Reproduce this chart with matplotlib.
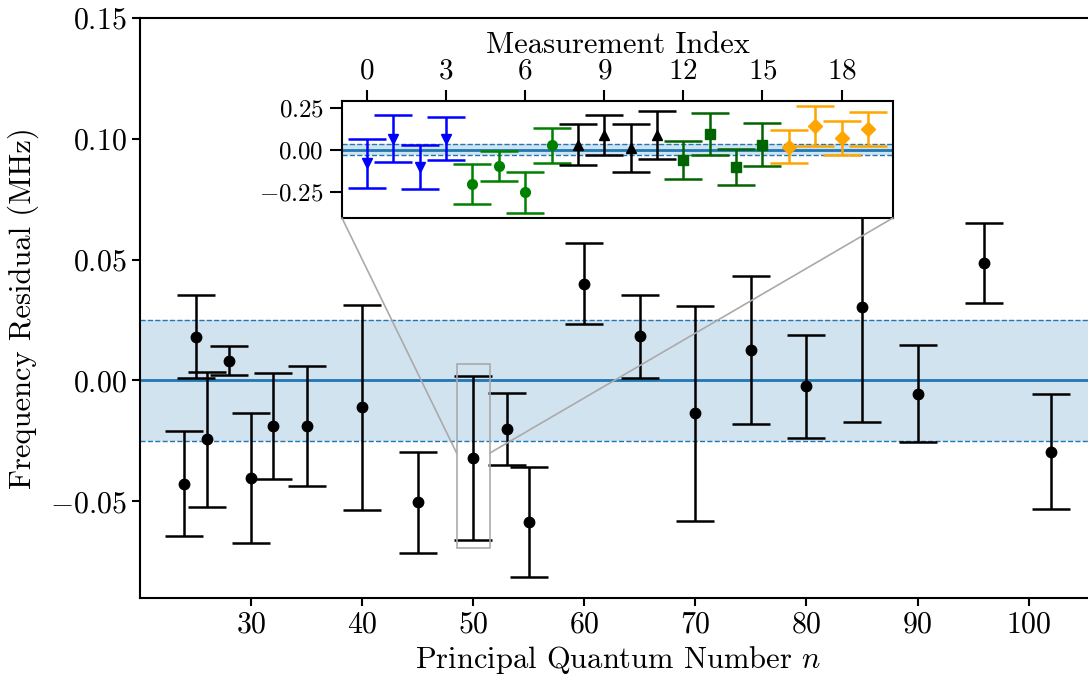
# residuals vs principal quantum number, with zoom-in of the n=50 repeats

import numpy as np
import matplotlib
matplotlib.use('Agg')
import matplotlib.pyplot as plt
from matplotlib.patches import Rectangle, ConnectionPatch
from matplotlib.ticker import FuncFormatter

plt.rcParams['font.family'] = 'serif'
plt.rcParams['font.serif'] = ['cmr10']
plt.rcParams['mathtext.fontset'] = 'cm'
plt.rcParams['axes.formatter.use_mathtext'] = True

# main data
n_vals = [24, 25, 26, 28, 30, 32, 35, 40, 45, 50, 53, 55,
          60, 65, 70, 75, 80, 85, 90, 96, 102]
resid = [-0.0428, 0.0182, -0.0244, 0.0082, -0.0404, -0.0188, -0.0188, -0.0110,
         -0.0504, -0.0322, -0.0200, -0.0585,
         0.0401, 0.0183, -0.0136, 0.0127, -0.0023, 0.0303, -0.0054, 0.0486, -0.0294]
resid_err = [0.0217, 0.0170, 0.0278, 0.0060, 0.0268, 0.0220, 0.0250, 0.0424,
             0.0208, 0.0340, 0.0150, 0.0227,
             0.0167, 0.0172, 0.0444, 0.0306, 0.0213, 0.0475, 0.0200, 0.0167, 0.0238]
band = 0.025

# inset: repeated measurements at n=50
inset_groups = [
    # (indices, values, errors, colour, marker)
    ([0, 1, 2, 3], [-0.080, 0.067, -0.103, 0.066], [0.145, 0.140, 0.132, 0.127], 'blue', 'v'),
    ([4, 5, 6, 7], [-0.204, -0.097, -0.254, 0.026], [0.120, 0.087, 0.120, 0.105], 'green', 'o'),
    ([8, 9, 10, 11], [0.030, 0.087, 0.010, 0.090], [0.122, 0.120, 0.142, 0.143], 'black', '^'),
    ([12, 13, 14, 15], [-0.060, 0.094, -0.103, 0.030], [0.113, 0.124, 0.109, 0.128], 'darkgreen', 's'),
    ([16, 17, 18, 19], [0.018, 0.142, 0.072, 0.122], [0.097, 0.117, 0.102, 0.100], 'orange', 'D'),
]
inset_band = 0.033
inset_ticks = [0, 3, 6, 9, 12, 15, 18]
inset_yticks = [-0.25, 0.0, 0.25]

# zoom box around n=50 and where the connectors land
zoom_x = (48.5, 51.5)
zoom_y = (-0.0695, 0.007)
conn_y = -0.030

fmt2 = FuncFormatter(lambda v, pos: '$%.2f$' % v)

fig = plt.figure(figsize=(10.88, 6.82), dpi=100)
ax = fig.add_axes([0.1287, 0.1232, 0.878, 0.8504])

ax.axhspan(-band, band, color='#1f77b4', alpha=0.2, lw=0)
ax.axhline(band, color='#1f77b4', ls='--', lw=1)
ax.axhline(-band, color='#1f77b4', ls='--', lw=1)
ax.axhline(0, color='#1f77b4', lw=2)
ax.errorbar(n_vals, resid, yerr=resid_err, fmt='o', color='black', ms=7.5,
            elinewidth=1.8, capsize=14, capthick=1.8)

ax.set_xlim(20, 106)
ax.set_ylim(-0.09, 0.15)
ax.set_xticks([30, 40, 50, 60, 70, 80, 90, 100])
ax.set_yticks([-0.05, 0.0, 0.05, 0.10, 0.15])
ax.yaxis.set_major_formatter(fmt2)
ax.tick_params(labelsize=21.5, length=6, width=1.5, direction='out')
ax.set_xlabel('Principal Quantum Number $n$', fontsize=22)
ax.set_ylabel('Frequency Residual (MHz)', fontsize=22, labelpad=8)
for s in ax.spines.values():
    s.set_linewidth(1.5)
ax.spines['right'].set_visible(False)

# zoom box
ax.add_patch(Rectangle((zoom_x[0], zoom_y[0]), zoom_x[1] - zoom_x[0], zoom_y[1] - zoom_y[0],
                       fill=False, edgecolor='#aaaaaa', lw=1.2, zorder=5))

# inset
axin = fig.add_axes([0.3143, 0.6804, 0.5064, 0.1716])
axin.axhspan(-inset_band, inset_band, color='#1f77b4', alpha=0.2, lw=0)
axin.axhline(inset_band, color='#1f77b4', ls='--', lw=1)
axin.axhline(-inset_band, color='#1f77b4', ls='--', lw=1)
axin.axhline(0, color='#1f77b4', lw=2)
for idx, vals, errs, col, mk in inset_groups:
    axin.errorbar(idx, vals, yerr=errs, fmt=mk, color=col, ms=7,
                  elinewidth=1.8, capsize=14, capthick=1.8)
axin.set_xticks(inset_ticks)
axin.set_yticks(inset_yticks)
axin.yaxis.set_major_formatter(fmt2)
axin.xaxis.tick_top()
axin.xaxis.set_label_position('top')
axin.set_xlabel('Measurement Index', fontsize=22)
axin.tick_params(axis='x', labelsize=21, length=8, width=1.5)
axin.tick_params(axis='y', labelsize=18, length=9, width=1.5, pad=4)
for s in axin.spines.values():
    s.set_linewidth(1.5)

# connectors from inset corners to zoom box
for frac_x, box_x in [(0, zoom_x[0]), (1, zoom_x[1])]:
    con = ConnectionPatch(xyA=(frac_x, 0), coordsA=axin.transAxes,
                          xyB=(box_x, conn_y), coordsB=ax.transData,
                          color='#aaaaaa', lw=1.2)
    fig.add_artist(con)

fig.savefig('out.png', dpi=100)
